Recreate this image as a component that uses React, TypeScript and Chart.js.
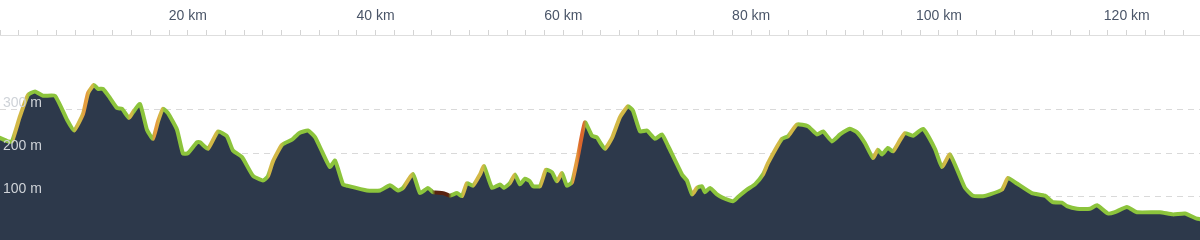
import React, { useEffect, useRef } from "react";
import { Chart, registerables } from "chart.js";

Chart.register(...registerables);

// Distance along the route (km) and elevation (m)
const distanceKm = [
  0, 0.85, 1.28, 2.13, 2.98, 3.73, 4.58, 5.86, 7.14, 7.88, 8.84, 9.37, 10.01, 10.44, 10.97,
  11.71, 12.46, 12.99, 13.74, 14.16, 14.91, 15.65, 16.29, 16.83, 17.36, 17.89, 18.85, 19.49,
  20.02, 20.98, 21.3, 22.15, 23.22, 24.17, 24.81, 25.77, 26.94, 28.01, 28.54, 29.07, 30.03,
  31.1, 31.84, 32.8, 33.55, 34.29, 35.14, 35.68, 36.53, 36.95, 39.08, 40.47, 41.53, 42.39,
  42.92, 43.98, 44.73, 45.58, 46.11, 47.18, 47.92, 48.67, 49.2, 49.73, 50.37, 51.12, 51.54,
  52.4, 53.25, 53.67, 54.31, 54.84, 55.38, 55.91, 56.44, 56.76, 57.51, 58.15, 58.79, 59.32,
  59.85, 60.38, 60.92, 61.55, 62.3, 63.05, 63.58, 63.9, 64.43, 65.18, 66.03, 66.88, 67.41,
  68.16, 68.9, 69.76, 70.5, 71.14, 72.63, 73.16, 73.7, 74.23, 74.76, 75.08, 75.61, 76.36,
  76.89, 78.06, 78.59, 79.55, 80.4, 81.26, 81.79, 83.28, 83.92, 84.88, 86.05, 87.01, 87.65,
  88.61, 89.46, 90.52, 91.27, 92.12, 92.97, 93.5, 93.93, 94.57, 95.1, 95.85, 96.38, 97.23,
  98.3, 99.57, 100.32, 101.17, 102.77, 103.62, 104.69, 105.43, 106.71, 107.35, 108.31,
  109.9, 111.29, 112.14, 113.1, 113.63, 114.7, 116.08, 116.83, 118.0, 118.74, 120.02,
  121.09, 123.54, 124.92, 126.2, 127.48, 127.8,
];

const elevationM = [
  235, 227, 227, 285, 334, 342, 332, 332, 277, 252, 290, 338, 357, 348, 348,
  327, 304, 302, 281, 294, 313, 254, 233, 273, 302, 292, 254, 199,
  200, 225, 225, 210, 250, 239, 206, 191, 148, 137, 147, 181, 219,
  231, 246, 252, 237, 204, 168, 183, 128, 125, 114, 114, 126, 114,
  120, 152, 108, 120, 110, 108, 102, 108, 101, 131, 125, 151, 170,
  120, 128, 120, 131, 151, 128, 141, 135, 124, 124, 162, 156, 135,
  154, 125, 133, 193, 271, 240, 236, 225, 210, 235, 283, 308, 298,
  250, 252, 233, 243, 217, 151, 137, 105, 120, 124, 110, 120, 105,
  98, 89, 99, 116, 128, 151, 177, 233, 239, 266, 262, 243, 250,
  227, 243, 256, 248, 223, 189, 208, 197, 212, 204, 230, 246, 240,
  256, 210, 168, 197, 120, 102, 101, 105, 116, 143, 130,
  108, 102, 87, 86, 78, 72, 72, 80, 61, 64, 76,
  64, 64, 59, 61, 49, 48,
];

const xTickStepKm = 2;
const xLabelEveryKm = 20;
const yTickValues = [100, 200, 300];
const yMaxM = 472;
const darkSectionKm = [46.2, 48.0];
const gradeThresholdsPct = [2.8, 7, 9.8];
const gradeColors = ["#8cc43c", "#d2b846", "#e49c3e", "#dc672c"];
const darkSectionColor = "#5a2310";

const FONT_FAMILY = "'Liberation Sans', Arial, sans-serif";

function segmentColor(i: number): string {
  const d0 = distanceKm[i];
  const d1 = distanceKm[i + 1];
  const mid = (d0 + d1) / 2;
  if (mid >= darkSectionKm[0] && mid <= darkSectionKm[1]) return darkSectionColor;
  const grade = ((elevationM[i + 1] - elevationM[i]) / ((d1 - d0) * 1000)) * 100;
  if (grade < gradeThresholdsPct[0]) return gradeColors[0];
  if (grade < gradeThresholdsPct[1]) return gradeColors[1];
  if (grade < gradeThresholdsPct[2]) return gradeColors[2];
  return gradeColors[3];
}

const yLabelPlugin = {
  id: "yLabelOverlay",
  afterDatasetsDraw(chart: any) {
    const ys = chart.scales.y;
    const ctx = chart.ctx;
    ctx.save();
    ctx.font = `14px ${FONT_FAMILY}`;
    ctx.fillStyle = "#cfd3d8";
    ctx.textAlign = "left";
    ctx.textBaseline = "middle";
    yTickValues.forEach((v) => {
      ctx.fillText(`${v} m`, chart.chartArea.left + 3, ys.getPixelForValue(v) - 7);
    });
    ctx.restore();
  },
};

export default function App() {
  const ref = useRef<HTMLCanvasElement | null>(null);

  useEffect(() => {
    const canvas = ref.current;
    if (!canvas) return;
    const points = distanceKm.map((x, i) => ({ x, y: elevationM[i] }));

    const chart = new Chart(canvas, {
      type: "line",
      data: {
        datasets: [
          {
            data: points,
            fill: "origin",
            backgroundColor: "#2d394b",
            borderWidth: 4,
            borderJoinStyle: "round",
            borderCapStyle: "round",
            pointRadius: 0,
            tension: 0.15,
            borderColor: (ctx: any) => {
              const c = ctx.chart;
              const area = c.chartArea;
              if (!area) return gradeColors[0];
              const xs = c.scales.x;
              const w = area.right - area.left;
              const g = c.ctx.createLinearGradient(area.left, 0, area.right, 0);
              const clamp = (v: number) => Math.max(0, Math.min(1, v));
              for (let i = 0; i < distanceKm.length - 1; i++) {
                const p0 = xs.getPixelForValue(distanceKm[i]);
                const p1 = xs.getPixelForValue(distanceKm[i + 1]);
                const col = segmentColor(i);
                g.addColorStop(clamp((p0 + 0.25 * (p1 - p0) - area.left) / w), col);
                g.addColorStop(clamp((p0 + 0.75 * (p1 - p0) - area.left) / w), col);
              }
              return g;
            },
          } as any,
        ],
      },
      plugins: [yLabelPlugin],
      options: {
        animation: false,
        responsive: false,
        devicePixelRatio: 1,
        layout: { padding: { top: 2, left: 0, right: 0, bottom: 0 } },
        plugins: { legend: { display: false }, tooltip: { enabled: false } },
        scales: {
          x: {
            type: "linear",
            position: "top",
            min: distanceKm[0],
            max: distanceKm[distanceKm.length - 1],
            grid: {
              drawOnChartArea: false,
              tickLength: 5,
              color: "#d4d4d4",
            },
            border: { color: "#dedede" },
            ticks: {
              stepSize: xTickStepKm,
              includeBounds: false,
              autoSkip: false,
              maxRotation: 0,
              minRotation: 0,
              padding: 0,
              color: "#4a5568",
              font: { family: FONT_FAMILY, size: 14, lineHeight: 2 },
              callback: (v: any) => {
                const n = Math.round(Number(v));
                return n > 0 && n % xLabelEveryKm === 0 ? `${n} km` : "";
              },
            },
          },
          y: {
            type: "linear",
            position: "left",
            min: 0,
            max: yMaxM,
            afterBuildTicks: (s: any) => {
              s.ticks = yTickValues.map((value) => ({ value }));
            },
            grid: { color: "#d9d9d9", drawTicks: false, lineWidth: 1 },
            border: { display: false, dash: [6, 5] },
            ticks: { display: false },
          },
        },
      } as any,
    });
    return () => chart.destroy();
  }, []);

  return (
    <div style={{ position: "fixed", left: 0, top: 0, width: 1200, height: 240, background: "#ffffff" }}>
      <canvas ref={ref} width={1200} height={240} style={{ display: "block", width: 1200, height: 240 }} />
    </div>
  );
}
